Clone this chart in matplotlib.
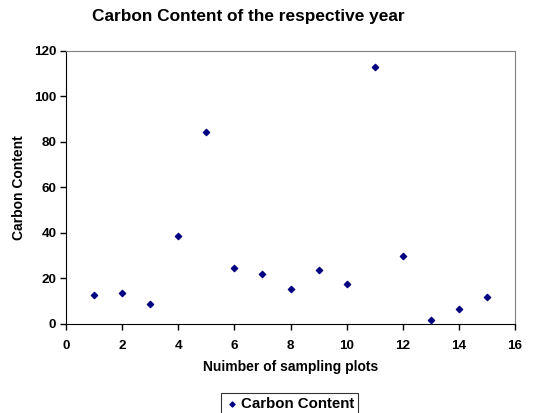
import matplotlib
matplotlib.use("Agg")
import matplotlib.pyplot as plt

# valores
plots = [1, 2, 3, 4, 5, 6, 7, 8, 9, 10, 11, 12, 13, 14, 15]
carbono = [12.9, 13.5, 8.6, 38.7, 84.1, 24.4, 21.8, 15.2, 23.7, 17.5, 112.9, 30.0, 1.8, 6.6, 11.7]

plt.rcParams["font.family"] = ["Liberation Sans", "DejaVu Sans"]
plt.rcParams["font.weight"] = "bold"

fig = plt.figure(figsize=(5.37, 4.13), dpi=100)
ax = fig.add_axes([0.1229, 0.2155, 0.8362, 0.6622])

ax.scatter(plots, carbono, marker="D", s=10, color="#000080", label="Carbon Content", zorder=3)

ax.set_xlim(0, 16)
ax.set_ylim(0, 120)
ax.set_xticks(range(0, 17, 2))
ax.set_yticks(range(0, 121, 20))
ax.tick_params(labelsize=9.7, length=4, width=1, direction="out")
ax.tick_params(axis="x", pad=7.5)
ax.tick_params(axis="y", pad=3)
for lab in ax.get_xticklabels() + ax.get_yticklabels():
    lab.set_fontweight("bold")

ax.spines["left"].set_color("black")
ax.spines["bottom"].set_color("black")
ax.spines["top"].set_color("#808080")
ax.spines["right"].set_color("#808080")

ax.set_xlabel("Nuimber of sampling plots", fontsize=10, fontweight="bold", labelpad=6)
ax.set_ylabel("Carbon Content", fontsize=10, fontweight="bold", labelpad=6)
fig.text(0.462, 0.96, "Carbon Content of the respective year", ha="center", va="center",
         fontsize=12.4, fontweight="bold")

leg = fig.legend(loc="center", bbox_to_anchor=(0.539, 0.022), fontsize=10.8, frameon=True,
                 fancybox=False, edgecolor="black", handletextpad=0.1, borderpad=0.25,
                 markerscale=0.8, handlelength=1)
leg.get_frame().set_linewidth(0.8)

fig.savefig("out.png", dpi=100)
